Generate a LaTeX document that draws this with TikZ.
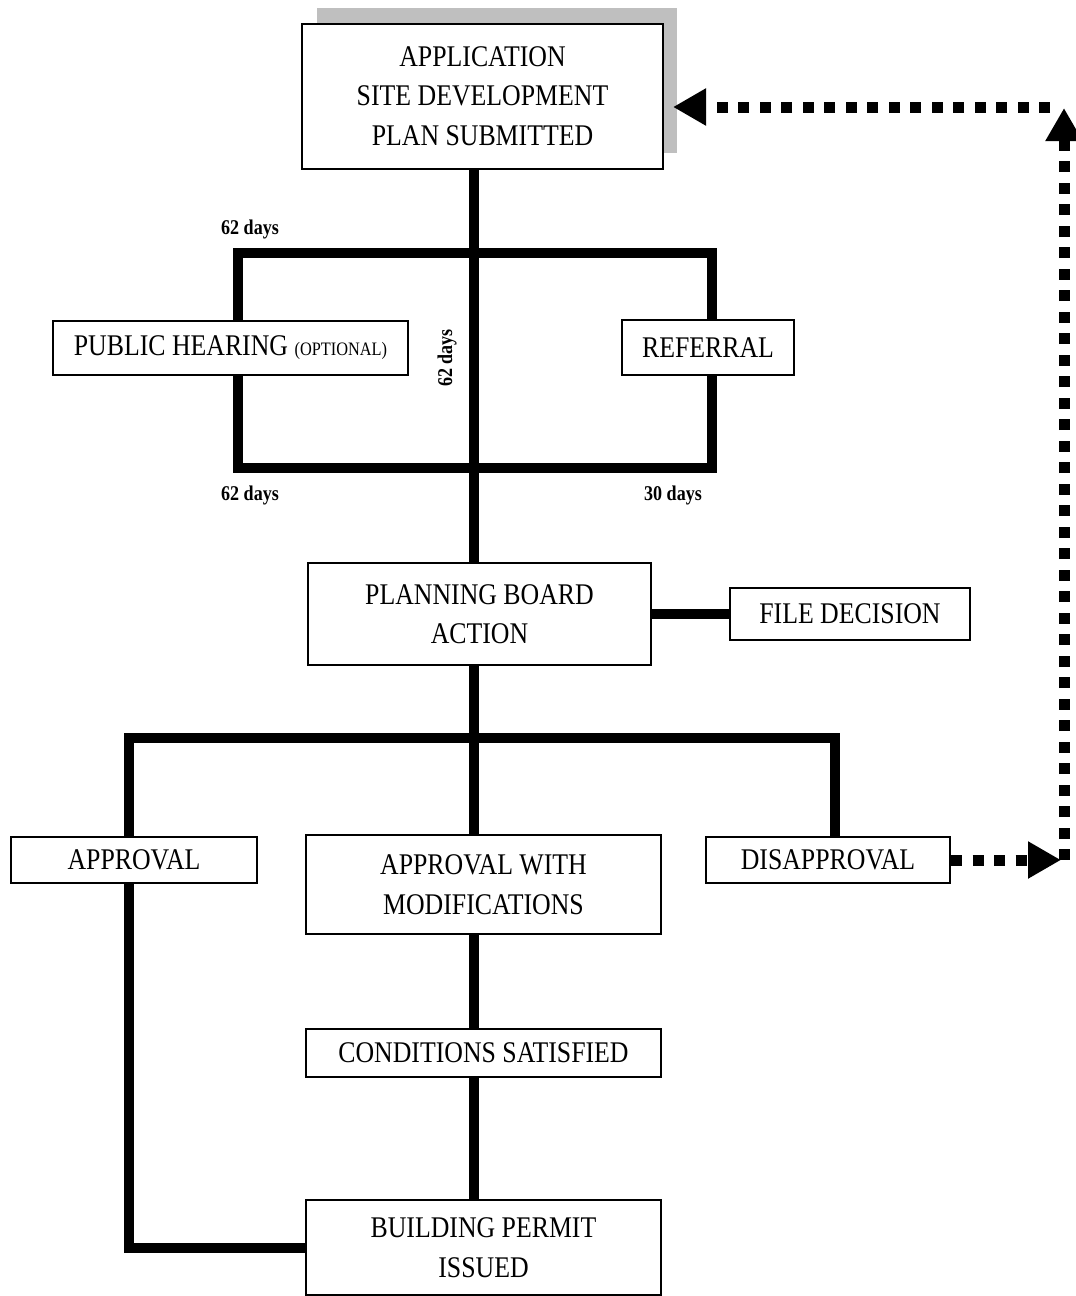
\documentclass[tikz,border=0pt]{standalone}
\usepackage{fontspec}
\setmainfont[FakeStretch=0.86]{Liberation Serif}
\usetikzlibrary{arrows.meta,backgrounds}
\begin{document}
\begin{tikzpicture}[x=1pt,y=-1pt,
  box/.style={draw,line width=2pt,fill=white,inner sep=0pt,align=center,
    font=\fontsize{30}{39.5}\selectfont},
  bar/.style={line width=10pt,line join=miter},
  dots/.style={line width=11pt,dash pattern=on 11pt off 10.5pt},
  tip/.style={-{Triangle[length=33pt,width=35pt]}},
  lbl/.style={font=\bfseries\fontsize{21}{24}\selectfont,inner sep=0pt}]
\useasboundingbox (0,0) rectangle (1076,1296);
% shadow
\node[fill=gray!50,minimum width=360pt,minimum height=145pt,inner sep=0pt] (shadow) at (497,80.5) {};
% boxes
\node[box,minimum width=361pt,minimum height=145pt] (app) at (482.5,96) {APPLICATION\\SITE DEVELOPMENT\\PLAN SUBMITTED};
\node[box,minimum width=355pt,minimum height=54pt] (pub) at (230.5,348) {PUBLIC HEARING {\fontsize{19}{20}\selectfont (OPTIONAL)}};
\node[box,minimum width=172pt,minimum height=55pt] (ref) at (708,347.5) {REFERRAL};
\node[box,minimum width=343pt,minimum height=102pt] (plan) at (479.5,614) {PLANNING BOARD\\ACTION};
\node[box,minimum width=240pt,minimum height=52pt] (file) at (850,614) {FILE DECISION};
\node[box,minimum width=246pt,minimum height=46pt] (appr) at (134,860) {APPROVAL};
\node[box,minimum width=355pt,minimum height=99pt] (mod) at (483.5,884.5) {APPROVAL WITH\\MODIFICATIONS};
\node[box,minimum width=244pt,minimum height=46pt] (dis) at (828,860) {DISAPPROVAL};
\node[box,minimum width=355pt,minimum height=48pt] (cond) at (483.5,1053) {CONDITIONS SATISFIED};
\node[box,minimum width=355pt,minimum height=95pt] (bp) at (483.5,1247.5) {BUILDING PERMIT\\ISSUED};
% labels
\node[lbl] (l1) at (250,229) {62 days};
\node[lbl,rotate=90] (l2) at (447,358) {62 days};
\node[lbl] (l3) at (250,495) {62 days};
\node[lbl] (l4) at (673,495) {30 days};
% helper coordinates
\coordinate (sp) at (474,0);
\coordinate (ra) at (238,253);
\coordinate (rb) at (712,468);
\coordinate (la) at (129,738);
\coordinate (lb) at (835,738);
% thick connectors behind boxes
\begin{scope}[on background layer]
\draw[bar] (app.south -| sp) -- (plan.north -| sp);
\draw[bar] (ra) rectangle (rb);
\draw[bar] (plan.east) -- (file.west);
\draw[bar] (plan.south -| sp) -- (mod.north -| sp);
\draw[bar] (appr.north -| la) -- (la) -- (lb) -- (dis.north -| lb);
\draw[bar] (appr.south -| la) -- (la |- bp.west) -- (bp.west);
\draw[bar] (mod.south -| sp) -- (cond.north -| sp);
\draw[bar] (cond.south -| sp) -- (bp.north -| sp);
\end{scope}
% dotted return arrows
\coordinate (br) at (1064,860);
\coordinate (brt) at (1061,860);
\coordinate (tr) at (1064,108);
\coordinate (th) at (1050,107);
\coordinate (tl) at (673,107);
\draw[dots,tip] (dis.east) -- (brt);
\draw[dots,tip] (br) -- (tr);
\draw[dots,tip] (th) -- (tl);
\end{tikzpicture}
\end{document}
